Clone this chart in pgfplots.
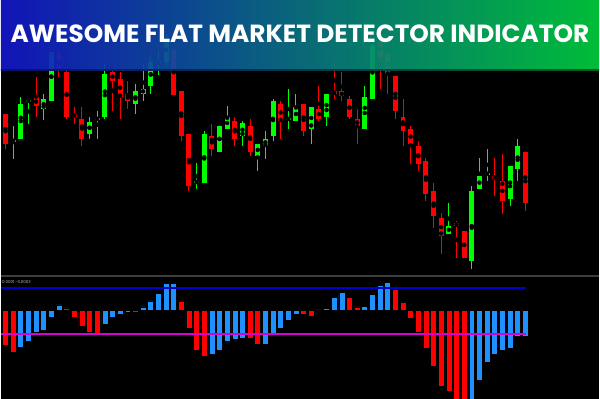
\documentclass[border=0pt]{standalone}
\usepackage{pgfplots}
\usepackage{pgfplotstable}
\pgfplotsset{compat=1.18}
\usepackage{fontspec}
\setmainfont{Poppins}
\definecolor{cred}{RGB}{255,0,0}
\definecolor{cgreen}{RGB}{0,255,0}
\definecolor{cblue}{RGB}{30,144,255}
\definecolor{lvlblue}{RGB}{0,0,205}
\definecolor{lvlmag}{RGB}{215,0,215}
\definecolor{bannerL}{RGB}{20,22,200}
\definecolor{bannerR}{RGB}{0,205,62}
\definecolor{sepgray}{RGB}{62,62,62}

% candles in chart pixel units (y grows downwards): t = body top, b = body bottom, h = high, l = low
\pgfplotstableread{
i  t      b      h      l
1  114    144.7  114    149.3
5  97.3   106.7  77     117
8  54     68.3   50     77
9  72     117    71     119.5
10 114    117    107    124.3
11 119    139    107    146.7
15 72     81.7   70     111.7
16 79     97     72     119.7
17 94     101.7  81.7   109.7
23 50     95     48     95
24 91     136.7  91     141.7
25 134.3  186.7  134    191.7
28 136.3  149.3  124    156.7
31 121.7  139    117    146.7
33 126.3  152.3  119.3  156.7
37 104    121.7  101.7  139
40 104    131.7  104    136.7
42 109.3  119.7  86.7   121.7
44 91.3   94.7   62     99.3
45 91.7   96.7   72     101.7
46 99     117    96.7   119.3
47 119    126.7  109    144.7
50 42     56.7   40     89.3
51 54     74.7   53     94.7
52 76.7   111.7  76.7   119.7
53 117.3  131.7  99     146.7
54 129.3  144.7  126.7  164.7
55 146.7  164.7  141.7  171.7
56 161.3  194.7  159    201.7
57 191.7  216.7  184    229
58 219    236.7  213.3  255
60 223.7  226.7  221.7  259.3
61 232    259.3  232    259.3
65 176.7  179.3  159    197
66 181.3  201.7  154.3  214.3
69 152    204    152    211.7
}\redcandles

\pgfplotstableread{
i  t      b      h      l
2  140.5  142    126    159.3
3  104    139    97.3   139
4  100.5  102    99.3   124.3
6  99.3   109.7  94     120
7  52     101.7  52     101.7
12 122    134.3  117.3  139
13 118.5  120    111.3  139
14 74     117    64     119.7
18 91     104    84     114
19 89     94.3   64     101.7
20 62     86.7   55     94.7
21 61.5   64.5   50     75
22 39     62     34     66
26 181.3  184    164    189.7
27 134    184    131.7  184
29 126.3  152.3  126.3  152.3
30 117    129.7  106.7  129.7
32 123.7  136.7  121.7  146.7
34 144    156.7  144    171.7
35 139    146.7  131.7  159.3
36 101.7  136.7  99.3   141.7
38 118.5  120    89     129.7
39 107    121.7  94     121.7
41 107    129.7  107    144.7
43 94     117    94     126.7
48 97     129.7  86.7   129.7
49 46     99.3   44     99.3
59 226.3  234.7  204    234.7
62 192    261.7  187    270
63 176.7  189.7  159    189.7
64 173.5  175    149    181.7
67 167    199.3  167    206.7
68 146.7  169.3  139    181.7
}\greencandles

% histogram values (positive = up from the zero line)
\pgfplotstableread{
i  v
1  -35.0
2  -42.0
9  2.7
10 -7.0
11 -16.0
12 -21.6
13 -24.0
18 -2.0
24 9.7
25 -18.0
26 -40.0
27 -46.0
33 -28.0
34 -34.0
40 -4.0
41 -6.0
46 13.4
47 3.7
52 21.4
53 8.7
54 -8.0
55 -21.3
56 -37.6
57 -56.0
58 -75.6
59 -81.0
60 -92
61 -92
}\redbars

\pgfplotstableread{
i  v
3  -37.0
4  -31.0
5  -22.0
6  -19.3
7  -7.0
8  5.7
14 -14.0
15 -7.0
16 -4.0
17 -2.0
19 3.7
20 9.7
21 17.7
22 27.7
23 27.7
28 -43.6
29 -40.0
30 -30.6
31 -29.0
32 -28.0
35 -33.3
36 -22.6
37 -17.3
38 -9.3
39 -3.3
42 0.7
43 2.4
44 13.4
45 18.4
48 4.0
49 16.4
50 25.7
51 28.0
62 -92
63 -70.3
64 -51.6
65 -43.6
66 -39.6
67 -37.3
68 -26.0
69 -25.6
}\bluebars

\pgfplotsset{
  wick/.style={only marks, mark=none, error bars/.cd, y dir=both, y explicit, error mark=none,
    error bar style={line width=1pt, draw=#1}},
  body/.style={only marks, mark=none, error bars/.cd, y dir=both, y explicit, error mark=none,
    error bar style={line width=5pt, draw=#1}},
}

\begin{document}
\begin{tikzpicture}
\fill[black] (0,0) rectangle (600pt,400pt);

\begin{axis}[at={(0pt,400pt)}, anchor=north west, width=600pt, height=278pt, scale only axis,
  xmin=0.413, xmax=78.64, ymin=0, ymax=278, y dir=reverse, axis lines=none, ticks=none, clip=true]
\addplot[wick=cred] table[x=i, y expr={(\thisrow{h}+\thisrow{l})/2}, y error expr={(\thisrow{l}-\thisrow{h})/2}] {\redcandles};
\addplot[wick=cgreen] table[x=i, y expr={(\thisrow{h}+\thisrow{l})/2}, y error expr={(\thisrow{l}-\thisrow{h})/2}] {\greencandles};
\addplot[body=cred] table[x=i, y expr={(\thisrow{t}+\thisrow{b})/2}, y error expr={(\thisrow{b}-\thisrow{t})/2}] {\redcandles};
\addplot[body=cgreen] table[x=i, y expr={(\thisrow{t}+\thisrow{b})/2}, y error expr={(\thisrow{b}-\thisrow{t})/2}] {\greencandles};
\end{axis}

\draw[sepgray, line width=2pt] (0,123pt) -- (600pt,123pt);

\begin{axis}[at={(0pt,0pt)}, anchor=south west, width=600pt, height=122pt, scale only axis,
  xmin=0.413, xmax=78.64, ymin=-88.3, ymax=33.7, axis lines=none, ticks=none, clip=true]
\addplot[ybar, bar shift=0pt, bar width=6pt, fill=cred, draw=black, line width=0.6pt] table[x=i, y=v] {\redbars};
\addplot[ybar, bar shift=0pt, bar width=6pt, fill=cblue, draw=black, line width=0.6pt] table[x=i, y=v] {\bluebars};
\addplot[lvlblue, line width=1.4pt] coordinates {(0.413,22.7) (69.12,22.7)};
\addplot[lvlmag, line width=1.5pt] coordinates {(0.413,-23.3) (69.12,-23.3)};
\end{axis}

\node[anchor=north west, inner sep=0pt, text=white!70!black, font=\fontsize{4}{4.5}\selectfont] at (1pt,119pt) {0.0001 -0.0003};

% title banner
\shade[left color=bannerL, right color=bannerR, fill opacity=0.92] (0,329.5pt) rectangle (600pt,400pt);
\shade[left color={rgb,255:red,10;green,16;blue,110}, right color={rgb,255:red,0;green,95;blue,40}] (0,329pt) rectangle (600pt,330.3pt);
\node[text=white, font=\bfseries\fontsize{24.9}{25}\selectfont] at (300pt,366pt) {AWESOME FLAT MARKET DETECTOR INDICATOR};
\end{tikzpicture}
\end{document}
